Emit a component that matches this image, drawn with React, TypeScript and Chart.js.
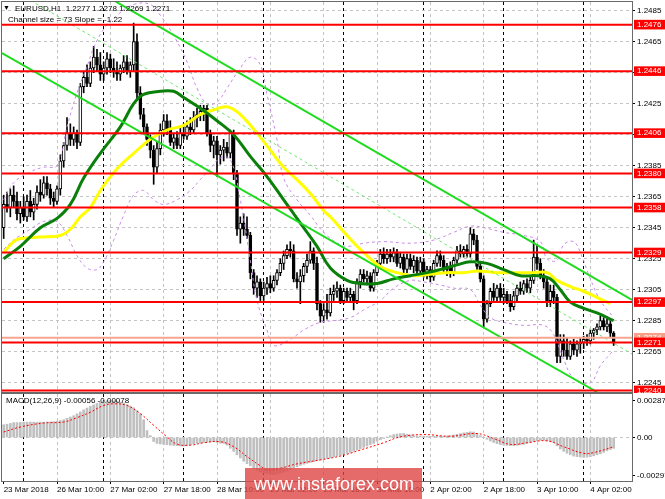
import React, { useEffect, useRef } from "react";
import { Chart, registerables } from "chart.js";

Chart.register(...registerables);

const FONT = '"Liberation Sans", "DejaVu Sans", Arial, sans-serif';
Chart.defaults.font.family = FONT;
Chart.defaults.font.size = 8;

// ---------------- data (prices in pips: 2360 = 1.2360) ----------------
const openPips = [
  2345,2360,2358,2366,2362,2354,2358,2352,2362,2355, 2360,2368,2366,2374,2370,2364,2362,2370,2388,2398,
  2406,2402,2406,2400,2436,2442,2438,2448,2455,2450, 2444,2448,2454,2448,2446,2444,2448,2452,2446,2450,
  2465,2432,2418,2410,2402,2395,2384,2396,2408,2414, 2408,2400,2403,2398,2406,2404,2410,2408,2416,2418,
  2420,2422,2406,2398,2401,2392,2395,2397,2393,2406, 2380,2344,2348,2344,2340,2316,2306,2310,2301,2306,
  2309,2306,2311,2316,2322,2327,2331,2330,2312,2310, 2314,2320,2324,2330,2322,2296,2288,2292,2290,2302,
  2304,2306,2298,2304,2300,2302,2298,2310,2315,2312, 2314,2306,2316,2322,2328,2325,2328,2326,2329,2322,
  2326,2318,2325,2320,2324,2317,2323,2316,2318,2313, 2322,2327,2324,2318,2320,2316,2324,2330,2328,2331,
  2328,2341,2337,2320,2312,2286,2296,2304,2300,2306, 2300,2302,2298,2294,2301,2306,2304,2309,2306,2311,
  2326,2322,2314,2310,2298,2304,2300,2262,2272,2266, 2262,2270,2266,2270,2271,2273,2272,2277,2279,2281,
  2285,2281,2283,2277,
];
const highPips = [
  2366,2368,2370,2372,2368,2362,2365,2366,2369,2364, 2372,2376,2378,2378,2373,2368,2372,2392,2400,2416,
  2412,2410,2408,2438,2446,2450,2452,2462,2460,2458, 2452,2458,2457,2454,2452,2450,2456,2456,2452,2477,
  2470,2436,2422,2412,2405,2398,2400,2412,2418,2418, 2414,2406,2407,2410,2412,2414,2416,2420,2422,2424,
  2424,2424,2408,2404,2404,2398,2402,2400,2408,2408, 2382,2352,2354,2352,2342,2318,2314,2312,2310,2313,
  2314,2314,2318,2325,2330,2334,2336,2334,2316,2318, 2322,2328,2336,2332,2326,2298,2296,2302,2306,2308,
  2310,2308,2306,2306,2306,2304,2312,2318,2318,2317, 2316,2318,2324,2331,2332,2331,2331,2332,2331,2329,
  2328,2328,2328,2327,2326,2326,2325,2320,2320,2324, 2330,2330,2327,2322,2323,2326,2333,2334,2333,2334,
  2345,2344,2340,2322,2314,2298,2306,2309,2308,2309, 2306,2304,2302,2304,2308,2310,2311,2312,2313,2337,
  2334,2325,2318,2313,2308,2308,2302,2276,2276,2274, 2272,2273,2272,2274,2275,2276,2279,2280,2283,2288,
  2287,2286,2285,2278,
];
const lowPips = [
  2338,2355,2352,2358,2350,2348,2350,2349,2352,2350, 2357,2362,2364,2366,2360,2358,2360,2366,2384,2395,
  2398,2398,2396,2398,2432,2436,2436,2445,2446,2440, 2440,2444,2445,2442,2440,2440,2445,2444,2442,2446,
  2428,2415,2406,2398,2390,2373,2380,2392,2404,2405, 2398,2396,2396,2396,2402,2402,2405,2406,2410,2414,
  2414,2404,2394,2390,2378,2386,2388,2390,2390,2376, 2340,2335,2340,2338,2312,2302,2300,2298,2298,2302,
  2303,2304,2308,2314,2318,2325,2326,2310,2306,2296, 2310,2316,2322,2318,2292,2284,2284,2286,2288,2298,
  2300,2296,2296,2298,2297,2292,2296,2306,2310,2308, 2304,2304,2314,2320,2322,2322,2323,2323,2320,2319,
  2314,2316,2318,2316,2314,2315,2313,2312,2310,2311, 2320,2320,2316,2314,2313,2314,2322,2326,2326,2326,
  2326,2334,2318,2310,2281,2284,2294,2298,2298,2298, 2296,2296,2291,2292,2298,2302,2302,2303,2303,2309,
  2318,2312,2306,2294,2294,2296,2258,2258,2262,2260, 2260,2263,2262,2264,2267,2269,2270,2273,2276,2279,
  2279,2278,2274,2269,
];
const closePips = [
  2360,2358,2366,2362,2354,2358,2352,2362,2355,2360, 2368,2366,2374,2370,2364,2362,2370,2388,2398,2406,
  2402,2406,2400,2436,2442,2438,2448,2455,2450,2444, 2448,2454,2448,2446,2444,2448,2452,2446,2450,2465,
  2432,2418,2410,2402,2395,2384,2396,2408,2414,2408, 2400,2403,2398,2406,2404,2410,2408,2416,2418,2420,
  2422,2406,2398,2401,2392,2395,2397,2393,2406,2380, 2344,2348,2344,2340,2316,2306,2310,2301,2306,2309,
  2306,2311,2316,2322,2327,2331,2330,2312,2310,2314, 2320,2324,2330,2322,2296,2288,2292,2290,2302,2304,
  2306,2298,2304,2300,2302,2298,2310,2315,2312,2314, 2306,2316,2322,2328,2325,2328,2326,2329,2322,2326,
  2318,2325,2320,2324,2317,2323,2316,2318,2313,2322, 2327,2324,2318,2320,2316,2324,2330,2328,2331,2328,
  2341,2337,2320,2312,2286,2296,2304,2300,2306,2300, 2302,2298,2294,2301,2306,2304,2309,2306,2311,2326,
  2322,2314,2310,2298,2304,2300,2262,2272,2266,2262, 2270,2266,2270,2271,2273,2272,2277,2279,2281,2285,
  2281,2283,2277,2271,
];

const timeLabels = [
  "23 Mar 2018", "26 Mar 10:00", "27 Mar 02:00", "27 Mar 18:00", "28 Mar 10:00", "29 Mar 02:00",
  "29 Mar 18:00", "30 Mar 10:00", "2 Apr 02:00", "2 Apr 18:00", "3 Apr 10:00", "4 Apr 02:00",
];
const labelBars = [0, 16, 32, 48, 64, 80, 96, 112, 128, 144, 160, 176];
const daySeparatorBars = [6, 30, 54, 78, 102, 126, 150, 174];

const priceTickValues = [1.2485, 1.2465, 1.2445, 1.2425, 1.2405, 1.2385, 1.2365, 1.2345, 1.2325, 1.2305, 1.2285, 1.2265, 1.2245];
const levelValues = [1.2476, 1.2446, 1.2406, 1.238, 1.2358, 1.2329, 1.2297, 1.2271, 1.224];
const askLevel = 1.2274;

// moving averages / bands: [bar, pips]
const greenMa = [
  [0,2325],[5,2333],[11,2345],[16,2351],[20,2360],[24,2377],[29,2393],[35,2410],[39,2425],[42,2431],
  [47,2433],[51,2433],[54,2429],[59,2422],[64,2414],[69,2405],[74,2391],[79,2378],[84,2363],[89,2348],
  [94,2333],[98,2319],[103,2311],[107,2309],[112,2309],[117,2312],[122,2314],[127,2316],[131,2318],[136,2321],
  [140,2323],[145,2322],[150,2318],[155,2314],[160,2314],[164,2312],[167,2305],[170,2297],[174,2293],[178,2290],[183,2285],
];
const yellowMa = [
  [0,2329],[3,2336],[5,2338],[11,2339],[17,2340],[20,2344],[23,2352],[26,2358],[29,2369],[34,2383],
  [39,2393],[44,2402],[49,2408],[54,2411],[59,2418],[63,2421],[67,2423],[71,2418],[76,2406],[80,2395],
  [84,2384],[88,2376],[92,2367],[96,2356],[98,2352],[103,2340],[108,2329],[113,2320],[118,2316],[123,2314],
  [128,2315],[133,2316],[138,2316],[142,2317],[148,2316],[154,2316],[159,2316],[163,2316],[166,2311],[170,2307],
  [174,2304],[178,2300],[182,2296],
];
const bbUpper = [
  [0,2363],[3,2374],[8,2381],[12,2384],[16,2385],[19,2410],[22,2432],[25,2449],[27,2461],[30,2473],
  [34,2482],[39,2489],[44,2489],[47,2482],[51,2469],[55,2452],[58,2435],[61,2425],[64,2426],[67,2435],
  [71,2448],[74,2455],[77,2450],[79,2431],[82,2402],[84,2377],[88,2363],[92,2353],[96,2342],[101,2334],
  [104,2333],[108,2335],[114,2336],[122,2335],[129,2337],[135,2342],[140,2346],[144,2345],[150,2342],[156,2340],
  [161,2336],[163,2325],[166,2324],[168,2334],[171,2336],[173,2329],[176,2312],[179,2298],[183,2287],
];
const bbLower = [
  [0,2331],[3,2337],[8,2344],[12,2349],[16,2349],[19,2340],[22,2327],[25,2319],[28,2318],[30,2323],
  [33,2337],[36,2353],[39,2366],[42,2369],[45,2363],[48,2360],[52,2363],[56,2369],[59,2376],[62,2383],
  [65,2390],[68,2389],[71,2363],[74,2324],[76,2298],[79,2279],[81,2269],[86,2273],[90,2279],[95,2284],
  [99,2285],[104,2287],[108,2292],[113,2298],[117,2306],[122,2311],[126,2310],[131,2308],[135,2306],[140,2305],
  [143,2295],[146,2287],[150,2284],[156,2282],[162,2282],[165,2276],[168,2260],[171,2248],[176,2245],[179,2256],[183,2266],
];

// channel lines: two end points each [bar, pips]
const channelUpper = [[32.8, 2491.9], [188.5, 2298.4]];
const channelMid = [[5, 2495.5], [188.5, 2263.5]];
const channelLower = [[-0.5, 2457.7], [178.0, 2239.0]];

// MACD (units of 0.00001)
const macdHist = [
  100,104,110,116,117,118,120,120,121,120,119,120,120,121,122,124,128,133,139,150,160,170,185,200,
  216,230,243,255,266,278,286,288,288,286,282,276,270,258,245,232,210,186,139,54,15,-31,-46,-50,
  -54,-57,-60,-62,-64,-66,-67,-62,-56,-50,-45,-42,-39,-36,-34,-33,-38,-44,-46,-60,-85,-108,-135,-160,
  -186,-205,-222,-240,-255,-268,-278,-284,-288,-290,-285,-278,-270,-262,-250,-240,-228,-218,-209,-202,-195,
  -189,-182,-176,-170,-164,-157,-151,-145,-138,-131,-124,-116,-108,-98,-88,-77,-66,-55,-46,-30,-18,
  -8,4,14,23,27,30,31,26,20,15,12,11,10,10,9,10,11,10,10,12,15,19,25,30,36,40,44,43,30,14,
  0,-14,-28,-39,-48,-55,-60,-62,-63,-64,-61,-58,-54,-46,-38,-31,-26,-22,-21,-26,-33,-39,-65,-90,
  -108,-123,-135,-145,-150,-153,-155,-154,-150,-143,-135,-126,-116,-104,-94,-85,
];
const macdSignal = [
  [0,43],[5,82],[12,113],[18,121],[22,155],[26,198],[30,250],[33,263],[37,250],[41,186],[45,95],[49,5],
  [52,-52],[56,-60],[60,-41],[65,-33],[69,-72],[73,-149],[77,-222],[79,-253],[83,-240],[88,-206],[95,-175],
  [101,-145],[107,-98],[114,-41],[119,5],[126,23],[134,10],[142,31],[147,-8],[152,-54],[157,-41],[163,-26],
  [168,-72],[174,-124],[177,-118],[183,-72],
];
const macdTickValues = [0.00287, 0, -0.00297];

// ---------------- helpers ----------------
const X_MIN = -0.5;
const X_MAX = 188.5;
const pip = (p: number) => 1 + p / 10000;
const mu = (v: number) => v / 100000;
const toXY = (pts: number[][], f: (v: number) => number) => pts.map(([x, y]) => ({ x, y: f(y) }));

const buildXTicks = () => [
  ...labelBars.map((b, k) => ({ value: b, sep: false, label: timeLabels[k] })),
  ...daySeparatorBars.map((b) => ({ value: b, sep: true, label: "" })),
];
const xGridColor = (ctx: any) => {
  const t = ctx.tick;
  if (!t) return "rgba(0,0,0,0)";
  if (t.sep) return "#000000";
  if (t.value === 0) return "rgba(0,0,0,0)";
  return "#c4c4c4";
};
const noPad = (s: any) => {
  s.paddingTop = 0; s.paddingBottom = 0; s.paddingLeft = 0; s.paddingRight = 0;
};

const framePlugin = {
  id: "frame",
  afterDraw(chart: any) {
    const { ctx, chartArea: a } = chart;
    ctx.save();
    ctx.strokeStyle = "#6a6a6a";
    ctx.lineWidth = 1;
    ctx.strokeRect(a.left - 0.5, a.top - 0.5, a.right - a.left + 1, a.bottom - a.top + 1);
    ctx.restore();
  },
};

const hLine = (v: number, color: string, width: number) => ({
  type: "line" as const,
  data: [{ x: X_MIN, y: v }, { x: X_MAX, y: v }],
  borderColor: color,
  borderWidth: width,
  pointRadius: 0,
  order: 0,
});

export default function App() {
  const priceRef = useRef<HTMLCanvasElement>(null);
  const macdRef = useRef<HTMLCanvasElement>(null);

  useEffect(() => {
    const bars = openPips.map((_, i) => i);
    const bodyColors = bars.map((i) => (closePips[i] >= openPips[i] ? "#ffffff" : "#000000"));

    const priceTitle = {
      id: "priceTitle",
      afterDraw(chart: any) {
        const ctx = chart.ctx;
        ctx.save();
        ctx.fillStyle = "#000";
        ctx.textBaseline = "middle";
        ctx.font = `7px ${FONT}`;
        ctx.fillText("\u25BC", 3, 8.5);
        ctx.font = `8px ${FONT}`;
        ctx.fillText("EURUSD,H1  1.2277 1.2278 1.2269 1.2271", 15, 8.5);
        ctx.fillText("Channel size = 73 Slope = -1.22", 8, 19.5);
        ctx.restore();
      },
    };

    const yTicks = [
      ...priceTickValues.map((v) => ({ value: v, level: false, bg: "" })),
      ...levelValues.slice(0, 7).map((v) => ({ value: v, level: true, bg: "#ff0000" })),
      { value: askLevel, level: true, bg: "#f6a088" },
      ...levelValues.slice(7).map((v) => ({ value: v, level: true, bg: "#ff0000" })),
    ];

    const priceChart = new Chart(priceRef.current!, {
      type: "bar",
      data: {
        datasets: [
          ...levelValues.map((v) => hLine(v, "#ff0000", 2)),
          hLine(askLevel, "#f7a58e", 2),
          { type: "line", data: toXY(channelUpper, pip), borderColor: "#1fdc1f", borderWidth: 2, pointRadius: 0, order: 1 },
          { type: "line", data: toXY(channelLower, pip), borderColor: "#1fdc1f", borderWidth: 2, pointRadius: 0, order: 1 },
          { type: "line", data: toXY(channelMid, pip), borderColor: "#6fe86f", borderWidth: 1, borderDash: [3, 3], pointRadius: 0, order: 1 },
          { type: "line", data: toXY(greenMa, pip), borderColor: "#0a800a", borderWidth: 3, pointRadius: 0, tension: 0.4, order: 2 },
          { type: "line", data: toXY(yellowMa, pip), borderColor: "#ffff00", borderWidth: 3, pointRadius: 0, tension: 0.4, order: 2 },
          { type: "line", data: toXY(bbUpper, pip), borderColor: "#c98be8", borderWidth: 1, borderDash: [3, 3], pointRadius: 0, tension: 0.4, order: 3 },
          { type: "line", data: toXY(bbLower, pip), borderColor: "#c98be8", borderWidth: 1, borderDash: [3, 3], pointRadius: 0, tension: 0.4, order: 3 },
          {
            type: "bar",
            data: bars.map((i) => ({ x: i, y: [pip(openPips[i]), pip(closePips[i])] })),
            backgroundColor: bodyColors,
            borderColor: "#000000",
            borderWidth: 1,
            borderSkipped: false,
            barThickness: 3,
            minBarLength: 1,
            grouped: false,
            order: 10,
          },
          {
            type: "bar",
            data: bars.map((i) => ({ x: i, y: [pip(lowPips[i]), pip(highPips[i])] })),
            backgroundColor: "#000000",
            borderWidth: 0,
            barThickness: 1,
            grouped: false,
            order: 11,
          },
        ] as any,
      },
      options: {
        responsive: false,
        animation: false,
        events: [],
        layout: { padding: { left: 2, top: 2, right: 0, bottom: 1 } },
        plugins: { legend: { display: false }, tooltip: { enabled: false } },
        scales: {
          x: {
            type: "linear",
            min: X_MIN,
            max: X_MAX,
            offset: false,
            afterBuildTicks: (s: any) => { s.ticks = buildXTicks(); },
            afterFit: (s: any) => { s.height = 0; noPad(s); },
            ticks: { display: false, autoSkip: false },
            grid: { offset: false, drawTicks: false, color: xGridColor, lineWidth: 1 },
            border: { display: false, dash: [3, 3] },
          },
          y: {
            type: "linear",
            position: "right",
            min: 1.2239,
            max: 1.24906,
            afterBuildTicks: (s: any) => { s.ticks = yTicks.map((t) => ({ ...t })); },
            afterFit: (s: any) => { s.width = 33; noPad(s); },
            ticks: {
              autoSkip: false,
              padding: 2,
              font: { size: 8 },
              callback: (v: any) => Number(v).toFixed(4),
              color: (ctx: any) => (ctx.tick && ctx.tick.level ? "#ffffff" : "#000000"),
              showLabelBackdrop: (ctx: any) => !!(ctx.tick && ctx.tick.level),
              backdropColor: (ctx: any) => (ctx.tick && ctx.tick.level ? ctx.tick.bg : "rgba(0,0,0,0)"),
              backdropPadding: { left: 3, right: 4, top: 0, bottom: 0 },
            } as any,
            grid: {
              color: (ctx: any) => (ctx.tick && !ctx.tick.level ? "#c4c4c4" : "rgba(0,0,0,0)"),
              tickColor: (ctx: any) => (ctx.tick && !ctx.tick.level ? "#000000" : "rgba(0,0,0,0)"),
              tickLength: 3,
              drawTicks: true,
            },
            border: { display: false, dash: [3, 3] },
          },
        },
      } as any,
      plugins: [framePlugin, priceTitle],
    });

    const macdOverlay = {
      id: "macdOverlay",
      afterDraw(chart: any) {
        const ctx = chart.ctx;
        ctx.save();
        ctx.fillStyle = "#000";
        ctx.textBaseline = "middle";
        ctx.font = `8px ${FONT}`;
        ctx.fillText("MACD(12,26,9) -0.00056 -0.00078", 6, 8);
        // watermark
        ctx.fillStyle = "rgba(222, 70, 70, 0.8)";
        ctx.fillRect(245, 75, 177, 31);
        ctx.fillStyle = "#ffffff";
        ctx.font = `18px ${FONT}`;
        ctx.textBaseline = "middle";
        ctx.fillText("www.instaforex.com", 254, 92);
        ctx.restore();
      },
    };

    const macdChart = new Chart(macdRef.current!, {
      type: "bar",
      data: {
        datasets: [
          {
            type: "line",
            data: toXY(macdSignal, mu),
            borderColor: "#ff0000",
            borderWidth: 1,
            borderDash: [2, 2],
            pointRadius: 0,
            tension: 0.4,
            order: 0,
          },
          {
            type: "bar",
            data: bars.map((i) => ({ x: i, y: mu(macdHist[i]) })),
            backgroundColor: "#c0c0c0",
            borderWidth: 0,
            barThickness: 2,
            grouped: false,
            order: 1,
          },
        ] as any,
      },
      options: {
        responsive: false,
        animation: false,
        events: [],
        layout: { padding: { left: 2, top: 1, right: 0, bottom: 1 } },
        plugins: { legend: { display: false }, tooltip: { enabled: false } },
        scales: {
          x: {
            type: "linear",
            min: X_MIN,
            max: X_MAX,
            offset: false,
            afterBuildTicks: (s: any) => { s.ticks = buildXTicks(); },
            afterFit: (s: any) => { s.height = 17; noPad(s); },
            ticks: {
              autoSkip: false,
              maxRotation: 0,
              minRotation: 0,
              align: "start",
              padding: 1,
              color: "#000",
              font: { size: 8 },
              callback: (_v: any, i: number, ticks: any[]) => ticks[i].label,
            },
            grid: {
              offset: false,
              drawTicks: true,
              tickLength: 3,
              color: xGridColor,
              tickColor: (ctx: any) => (ctx.tick && !ctx.tick.sep ? "#000" : "rgba(0,0,0,0)"),
            },
            border: { display: false, dash: [3, 3] },
          },
          y: {
            type: "linear",
            position: "right",
            min: -0.0034,
            max: 0.0034,
            afterBuildTicks: (s: any) => { s.ticks = macdTickValues.map((v) => ({ value: v })); },
            afterFit: (s: any) => { s.width = 33; noPad(s); },
            ticks: {
              autoSkip: false,
              padding: 2,
              color: "#000",
              font: { size: 8 },
              callback: (v: any) => (Number(v) === 0 ? "0.00" : Number(v).toFixed(5)),
            },
            grid: {
              color: (ctx: any) => (ctx.tick && ctx.tick.value === 0 ? "#c4c4c4" : "rgba(0,0,0,0)"),
              tickColor: "#000",
              tickLength: 3,
            },
            border: { display: false, dash: [3, 3] },
          },
        },
      } as any,
      plugins: [framePlugin, macdOverlay],
    });

    return () => {
      priceChart.destroy();
      macdChart.destroy();
    };
  }, []);

  return (
    <div style={{ position: "fixed", left: 0, top: 0, width: 665, height: 499, background: "#ffffff", overflow: "hidden" }}>
      <canvas ref={priceRef} width={665} height={393} style={{ position: "absolute", left: 0, top: 0, width: 665, height: 393 }} />
      <canvas ref={macdRef} width={665} height={106} style={{ position: "absolute", left: 0, top: 393, width: 665, height: 106 }} />
    </div>
  );
}
